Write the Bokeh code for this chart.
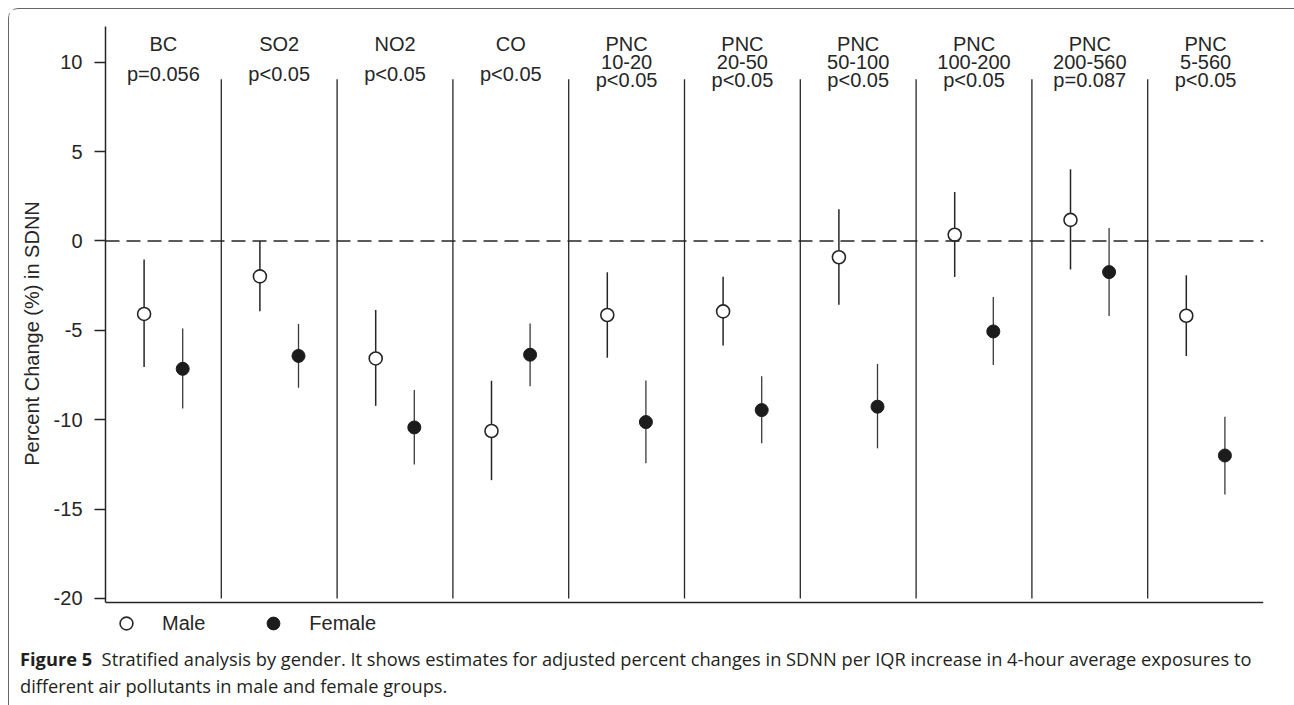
from bokeh.plotting import figure
from bokeh.models import (ColumnDataSource, FixedTicker, Span, Legend, LegendItem, Div,
                          PrintfTickFormatter)
from bokeh.layouts import column
from bokeh.core.properties import value
from bokeh.embed import file_html
from bokeh.resources import INLINE

# ---------------- data ----------------
pollutants = ["BC", "SO2", "NO2", "CO", "PNC", "PNC", "PNC", "PNC", "PNC", "PNC"]
size_ranges = ["", "", "", "", "10-20", "20-50", "50-100", "100-200", "200-560", "5-560"]
p_values = ["p=0.056", "p<0.05", "p<0.05", "p<0.05", "p<0.05", "p<0.05",
            "p<0.05", "p<0.05", "p=0.087", "p<0.05"]

male_est = [-4.08, -1.98, -6.57, -10.63, -4.14, -3.94, -0.91, 0.35, 1.18, -4.18]
male_lo = [-7.05, -3.93, -9.22, -13.38, -6.53, -5.84, -3.56, -2.01, -1.60, -6.44]
male_hi = [-1.03, 0.00, -3.86, -7.82, -1.75, -2.00, 1.77, 2.74, 4.01, -1.92]

female_est = [-7.15, -6.43, -10.43, -6.36, -10.13, -9.46, -9.27, -5.06, -1.74, -12.00]
female_lo = [-9.37, -8.21, -12.50, -8.13, -12.44, -11.32, -11.60, -6.94, -4.20, -14.18]
female_hi = [-4.90, -4.64, -8.34, -4.61, -7.80, -7.57, -6.88, -3.13, 0.73, -9.83]

y_ticks = [-20, -15, -10, -5, 0, 5, 10]

# ---------------- layout helpers ----------------
n = len(pollutants)
x_male = [i + 1 / 3 for i in range(n)]
x_female = [i + 2 / 3 for i in range(n)]
x_center = [i + 0.5 for i in range(n)]
dividers = [i for i in range(1, n)]

INK = "#262626"
FONT = "Liberation Sans"
Y_AXIS_BOTTOM = -20.22

p = figure(width=1283, height=631, x_range=(0, n), y_range=(-22.35, 12.0),
           output_backend="svg", toolbar_location=None,
           min_border_left=96, min_border_right=29, min_border_top=17,
           min_border_bottom=0)
p.xgrid.visible = False
p.ygrid.visible = False
p.outline_line_color = None
p.background_fill_color = "white"
p.border_fill_color = "white"
p.xaxis.visible = False

# y axis
p.yaxis.ticker = FixedTicker(ticks=y_ticks)
p.yaxis.formatter = PrintfTickFormatter(format="%d")
p.yaxis.bounds = (Y_AXIS_BOTTOM, 12.0)
p.yaxis.axis_label = "Percent Change (%) in SDNN"
p.yaxis.axis_label_text_font = FONT
p.yaxis.axis_label_text_font_size = "20px"
p.yaxis.axis_label_text_font_style = "normal"
p.yaxis.axis_label_text_color = INK
p.yaxis.axis_label_standoff = 8
p.yaxis.major_label_text_font = FONT
p.yaxis.major_label_text_font_size = "20px"
p.yaxis.major_label_text_color = INK
p.yaxis.major_label_standoff = 12
p.yaxis.major_tick_out = 11
p.yaxis.major_tick_in = 0
p.yaxis.minor_tick_out = 0
p.yaxis.minor_tick_in = 0
p.yaxis.axis_line_color = INK
p.yaxis.axis_line_width = 1.5
p.yaxis.major_tick_line_color = INK
p.yaxis.major_tick_line_width = 1.5

# x axis line (bottom of the plot region)
p.add_layout(Span(location=Y_AXIS_BOTTOM, dimension="width", line_color=INK,
                  line_width=1.5))

# panel dividers
p.segment(x0=dividers, y0=[-20] * len(dividers), x1=dividers, y1=[9.05] * len(dividers),
          line_color=INK, line_width=1.3)

# zero line
p.add_layout(Span(location=0, dimension="width", line_color=INK, line_width=1.3,
                  line_dash="14 7"))

# whiskers
p.segment(x0=x_male, y0=male_lo, x1=x_male, y1=male_hi, line_color=INK, line_width=1.5)
p.segment(x0=x_female, y0=female_lo, x1=x_female, y1=female_hi, line_color="#3a3a3a",
          line_width=1.3)

# points
r_m = p.scatter(x=x_male, y=male_est, marker="circle", size=13, fill_color="white",
                line_color=INK, line_width=1.6)
r_f = p.scatter(x=x_female, y=female_est, marker="circle", size=13, fill_color="#1c1c1c",
                line_color="#1c1c1c", line_width=1)

# panel header texts
has_range = [s != "" for s in size_ranges]
row1 = ColumnDataSource(dict(x=x_center, y=[11.0] * n, t=pollutants))
row2 = ColumnDataSource(dict(x=[x for x, h in zip(x_center, has_range) if h],
                             y=[10.02] * sum(has_range),
                             t=[s for s in size_ranges if s]))
row3 = ColumnDataSource(dict(x=x_center, y=[9.02 if h else 9.35 for h in has_range],
                             t=p_values))
for src in (row1, row2, row3):
    p.text(x="x", y="y", text="t", source=src, text_align="center",
           text_baseline="alphabetic", text_font=value(FONT), text_font_size="20px",
           text_color=INK)

legend = Legend(items=[LegendItem(label="Male", renderers=[r_m]),
                       LegendItem(label="Female", renderers=[r_f])],
                orientation="horizontal", location=(5, 1),
                border_line_color=None, background_fill_alpha=0,
                label_text_font=FONT, label_text_font_size="20px",
                label_text_color=INK, glyph_width=32, glyph_height=32,
                label_standoff=20, spacing=52, padding=2, margin=0)
p.add_layout(legend)

caption = Div(
    text=('<span style="font-weight:bold">Figure 5</span>&nbsp; Stratified analysis by gender. '
          'It shows estimates for adjusted percent changes in SDNN per IQR increase in '
          '4-hour average exposures to<br>different air pollutants in male and female groups.'),
    width=1283, height=56,
    styles={"font-family": "'Open Sans'", "font-size": "18.25px", "line-height": "27px",
            "color": "#231f20", "padding-left": "6px",
            "white-space": "nowrap", "box-sizing": "border-box"})

layout = column(p, caption,
                styles={"border": "1px solid #666", "border-bottom": "none",
                        "border-radius": "10px 10px 0 0", "margin": "8px 0 0 8px"})

open("out.html", "w").write(file_html(layout, INLINE))
